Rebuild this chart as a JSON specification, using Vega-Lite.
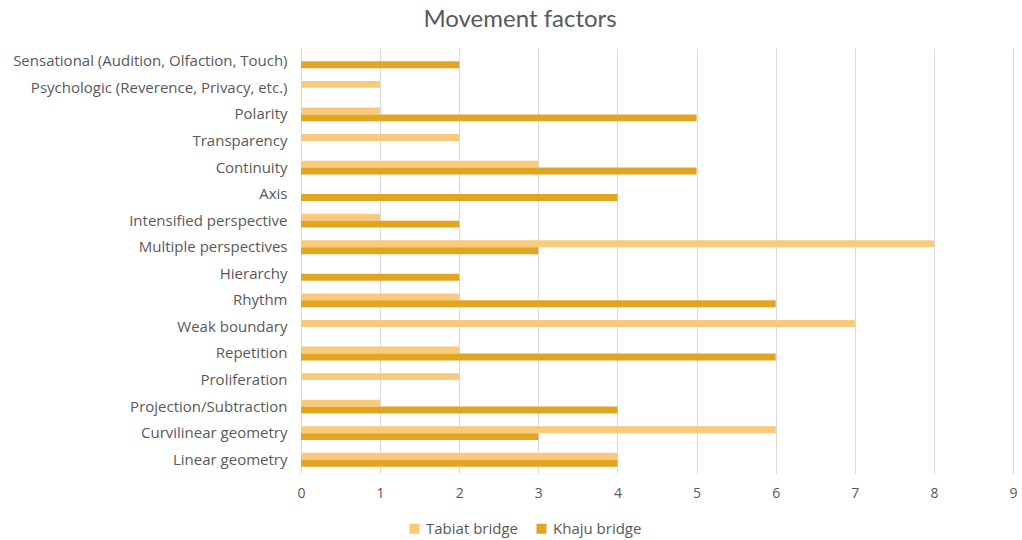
{
  "$schema": "https://vega.github.io/schema/vega-lite/v6.json",
  "width": 712,
  "height": 425,
  "autosize": {"type": "none"},
  "padding": {"left": 301, "top": 48, "right": 9, "bottom": 67},
  "background": "white",
  "title": {
    "text": "Movement factors",
    "fontSize": 24,
    "font": "Lato",
    "fontWeight": "normal",
    "color": "#595959",
    "anchor": "middle",
    "dx": -137,
    "offset": 16
  },
  "data": {
    "values": [
      {"factor": "Sensational (Audition, Olfaction, Touch)", "series": "Tabiat bridge", "value": 0},
      {"factor": "Sensational (Audition, Olfaction, Touch)", "series": "Khaju bridge", "value": 2},
      {"factor": "Psychologic (Reverence, Privacy, etc.)", "series": "Tabiat bridge", "value": 1},
      {"factor": "Psychologic (Reverence, Privacy, etc.)", "series": "Khaju bridge", "value": 0},
      {"factor": "Polarity", "series": "Tabiat bridge", "value": 1},
      {"factor": "Polarity", "series": "Khaju bridge", "value": 5},
      {"factor": "Transparency", "series": "Tabiat bridge", "value": 2},
      {"factor": "Transparency", "series": "Khaju bridge", "value": 0},
      {"factor": "Continuity", "series": "Tabiat bridge", "value": 3},
      {"factor": "Continuity", "series": "Khaju bridge", "value": 5},
      {"factor": "Axis", "series": "Tabiat bridge", "value": 0},
      {"factor": "Axis", "series": "Khaju bridge", "value": 4},
      {"factor": "Intensified perspective", "series": "Tabiat bridge", "value": 1},
      {"factor": "Intensified perspective", "series": "Khaju bridge", "value": 2},
      {"factor": "Multiple perspectives", "series": "Tabiat bridge", "value": 8},
      {"factor": "Multiple perspectives", "series": "Khaju bridge", "value": 3},
      {"factor": "Hierarchy", "series": "Tabiat bridge", "value": 0},
      {"factor": "Hierarchy", "series": "Khaju bridge", "value": 2},
      {"factor": "Rhythm", "series": "Tabiat bridge", "value": 2},
      {"factor": "Rhythm", "series": "Khaju bridge", "value": 6},
      {"factor": "Weak boundary", "series": "Tabiat bridge", "value": 7},
      {"factor": "Weak boundary", "series": "Khaju bridge", "value": 0},
      {"factor": "Repetition", "series": "Tabiat bridge", "value": 2},
      {"factor": "Repetition", "series": "Khaju bridge", "value": 6},
      {"factor": "Proliferation", "series": "Tabiat bridge", "value": 2},
      {"factor": "Proliferation", "series": "Khaju bridge", "value": 0},
      {"factor": "Projection/Subtraction", "series": "Tabiat bridge", "value": 1},
      {"factor": "Projection/Subtraction", "series": "Khaju bridge", "value": 4},
      {"factor": "Curvilinear geometry", "series": "Tabiat bridge", "value": 6},
      {"factor": "Curvilinear geometry", "series": "Khaju bridge", "value": 3},
      {"factor": "Linear geometry", "series": "Tabiat bridge", "value": 4},
      {"factor": "Linear geometry", "series": "Khaju bridge", "value": 4}
    ]
  },
  "mark": {"type": "bar"},
  "encoding": {
    "y": {
      "field": "factor",
      "type": "nominal",
      "sort": null,
      "scale": {"paddingInner": 0.48, "paddingOuter": 0.24},
      "axis": {
        "title": null,
        "ticks": false,
        "domain": false,
        "labelFont": "Open Sans",
        "labelFontSize": 15,
        "labelColor": "#595959",
        "labelPadding": 14,
        "labelLimit": 400
      }
    },
    "yOffset": {
      "field": "series",
      "type": "nominal",
      "sort": ["Tabiat bridge", "Khaju bridge"],
      "scale": {"paddingInner": 0, "paddingOuter": 0}
    },
    "x": {
      "field": "value",
      "type": "quantitative",
      "scale": {"domain": [0, 9]},
      "axis": {
        "title": null,
        "values": [0, 1, 2, 3, 4, 5, 6, 7, 8, 9],
        "ticks": false,
        "domain": false,
        "grid": true,
        "gridColor": "#D9D9D9",
        "labelFlush": false,
        "labelFont": "Open Sans",
        "labelFontSize": 14,
        "labelColor": "#595959",
        "labelPadding": 13
      }
    },
    "color": {
      "field": "series",
      "type": "nominal",
      "sort": ["Tabiat bridge", "Khaju bridge"],
      "scale": {"domain": ["Tabiat bridge", "Khaju bridge"], "range": ["#F9CA7C", "#E1A521"]},
      "legend": {
        "title": null,
        "orient": "none",
        "direction": "horizontal",
        "legendX": 106,
        "legendY": 473,
        "symbolType": "square",
        "symbolSize": 100,
        "symbolStrokeWidth": 0,
        "labelFont": "Open Sans",
        "labelFontSize": 15,
        "labelColor": "#595959",
        "columnPadding": 16,
        "labelOffset": 4
      }
    }
  },
  "config": {"view": {"stroke": null}}
}
